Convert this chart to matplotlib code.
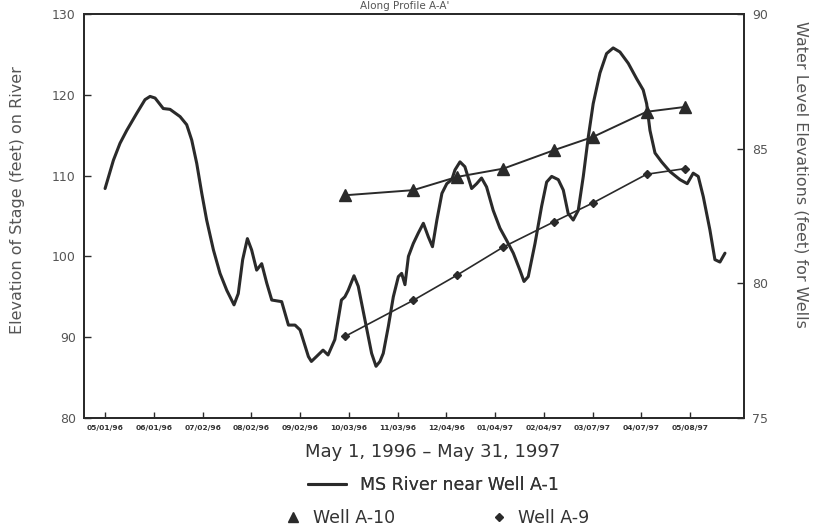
import numpy as np
import matplotlib
matplotlib.use("Agg")
import matplotlib.pyplot as plt
from matplotlib.lines import Line2D

# ---- data ----
start = np.datetime64("1996-05-01")
tick_labels = ["05/01/96", "06/01/96", "07/02/96", "08/02/96", "09/02/96", "10/03/96",
               "11/03/96", "12/04/96", "01/04/97", "02/04/97", "03/07/97", "04/07/97", "05/08/97"]
tick_dates = ["1996-05-01", "1996-06-01", "1996-07-02", "1996-08-02", "1996-09-02", "1996-10-03",
              "1996-11-03", "1996-12-04", "1997-01-04", "1997-02-04", "1997-03-07", "1997-04-07",
              "1997-05-08"]

# MS River stage (days since 1996-05-01, feet)
river_day = [0, 5.3, 9.5, 13.8, 20.1, 25.4, 28.6, 31.8, 37, 41.3, 47.7, 51.9, 55.1, 58.3, 61.5,
             64.6, 68.9, 73.1, 77.4, 82, 84.7, 87.5, 90.5, 93.2, 96.4, 99.6, 102.8, 106, 112.3,
             116.6, 120.8, 124, 129.3, 131.2, 134.4, 138.6, 141.8, 146.1, 150.3, 152.5, 154.6,
             158.3, 161, 165.3, 169.5, 172.3, 174.8, 176.9, 180.1, 183.3, 186.5, 188.6, 190.7,
             192.9, 196, 199.2, 202.4, 205.6, 208.2, 211, 214.2, 217.3, 220.5, 222.5, 225.7,
             228.8, 233.1, 236.3, 239.4, 242.6, 246.8, 251.1, 255.3, 259.6, 263.8, 266.4, 269.1,
             273.4, 277.6, 280.8, 284, 288.2, 291.4, 294.5, 297.7, 300.9, 304.1, 307.3, 310.4,
             314.7, 318.9, 323.1, 327.4, 332.7, 338, 342.2, 344.4, 346.5, 349.7, 353.9, 359.2,
             365.6, 370.2, 374, 377.2, 380.4, 384.6, 387.8, 391, 394.2]
river_stage = [108.4, 111.9, 114.0, 115.6, 117.7, 119.4, 119.8, 119.6, 118.3, 118.2, 117.3, 116.3,
               114.4, 111.5, 107.8, 104.5, 100.8, 97.9, 95.8, 94.0, 95.4, 99.6, 102.2, 100.8,
               98.3, 99.1, 96.7, 94.6, 94.4, 91.5, 91.5, 90.9, 87.6, 87.0, 87.6, 88.4, 87.8,
               89.7, 94.6, 95.0, 95.8, 97.6, 96.3, 92.1, 88.0, 86.4, 87.0, 88.0, 91.3, 95.0,
               97.5, 97.9, 96.5, 100.0, 101.6, 102.9, 104.1, 102.4, 101.2, 104.5, 107.8, 109.0,
               109.5, 110.7, 111.7, 111.1, 108.4, 109.0, 109.7, 108.6, 105.7, 103.5, 102.0,
               100.4, 98.3, 96.9, 97.5, 101.6, 106.2, 109.2, 109.9, 109.5, 108.2, 105.3, 104.5,
               105.7, 109.9, 114.8, 118.9, 122.7, 125.1, 125.8, 125.3, 123.9, 122.0, 120.6,
               118.9, 115.6, 112.8, 111.7, 110.5, 109.5, 109.0, 110.3, 109.9, 107.4, 103.3,
               99.6, 99.3, 100.4]

# Wells (days since 1996-05-01, feet)
well_day = [152.6, 196, 223.7, 253.3, 285.3, 310.4, 344.4, 368.8]
well_a10 = [83.27, 83.46, 83.95, 84.26, 84.94, 85.44, 86.37, 86.55]
well_a9 = [78.03, 79.37, 80.30, 81.35, 82.28, 82.99, 84.05, 84.26]

tick_pos = [(np.datetime64(d) - start).astype(int) for d in tick_dates]

# ---- figure ----
ink = "#2a2a2a"
gray = "#555555"
fig = plt.figure(figsize=(8.13, 5.29), dpi=100)
ax = fig.add_axes([84/813, 1-418/529, 660/813, 404/529])
ax2 = ax.twinx()

river, = ax.plot(river_day, river_stage, color=ink, lw=2.2, solid_capstyle="round",
                 solid_joinstyle="round")
ax2.plot(well_day, well_a10, color=ink, lw=1.4, marker="^", ms=8)
ax2.plot(well_day, well_a9, color=ink, lw=1.2, marker="D", ms=4.5)

ax.set_xlim(-13.4, 406.3)
ax.set_ylim(80, 130)
ax2.set_ylim(75, 90)
ax.set_xticks(tick_pos)
ax.set_xticklabels(tick_labels, fontsize=5.4, fontweight="bold", color="#333333")
ax.set_yticks([80, 90, 100, 110, 120, 130])
ax2.set_yticks([75, 80, 85, 90])

for a in (ax, ax2):
    for s in a.spines.values():
        s.set_color(ink)
        s.set_linewidth(1.3)
ax.tick_params(axis="x", direction="in", length=4, width=1, pad=5, color=ink)
ax.tick_params(axis="y", direction="in", length=5, width=1, labelsize=9, labelcolor=gray,
               color=ink, pad=6)
ax2.tick_params(axis="y", direction="in", length=5, width=1, labelsize=9, labelcolor=gray,
                color=ink, pad=6)

ax.set_ylabel("Elevation of Stage (feet) on River", fontsize=11.5, color=gray)
ax.yaxis.set_label_coords(-0.089, 0.54)
ax2.set_ylabel("Water Level Elevations (feet) for Wells", fontsize=11.5, color=gray,
               rotation=270, va="bottom")
ax2.yaxis.set_label_coords(1.075, 0.604)

fig.text(433/813, 1-452/529, "May 1, 1996 \u2013 May 31, 1997", ha="center", va="center",
         fontsize=13, color="#333333")

h_tri = Line2D([], [], color=ink, marker="^", ls="none", ms=7)
h_dia = Line2D([], [], color=ink, marker="D", ls="none", ms=4.5)
leg1 = fig.legend([river], ["MS River near Well A-1"], loc="center",
                  bbox_to_anchor=(433/813, 1-485/529), frameon=False, fontsize=12.5,
                  handlelength=2.2, handletextpad=0.8, labelcolor="#333333")
leg2 = fig.legend([h_tri, h_dia], ["Well A-10", "Well A-9"], loc="center", ncol=2,
                  bbox_to_anchor=(437/813, 1-518/529), frameon=False, fontsize=12.5,
                  handlelength=1.0, handletextpad=0.6, columnspacing=5.5,
                  labelcolor="#333333")
fig.add_artist(leg1)

fig.text(405/813, 1 - 1/529, "Along Profile A-A'", ha="center", va="top", fontsize=7.5,
         color=gray)

fig.savefig("out.png", dpi=100, facecolor="white")
